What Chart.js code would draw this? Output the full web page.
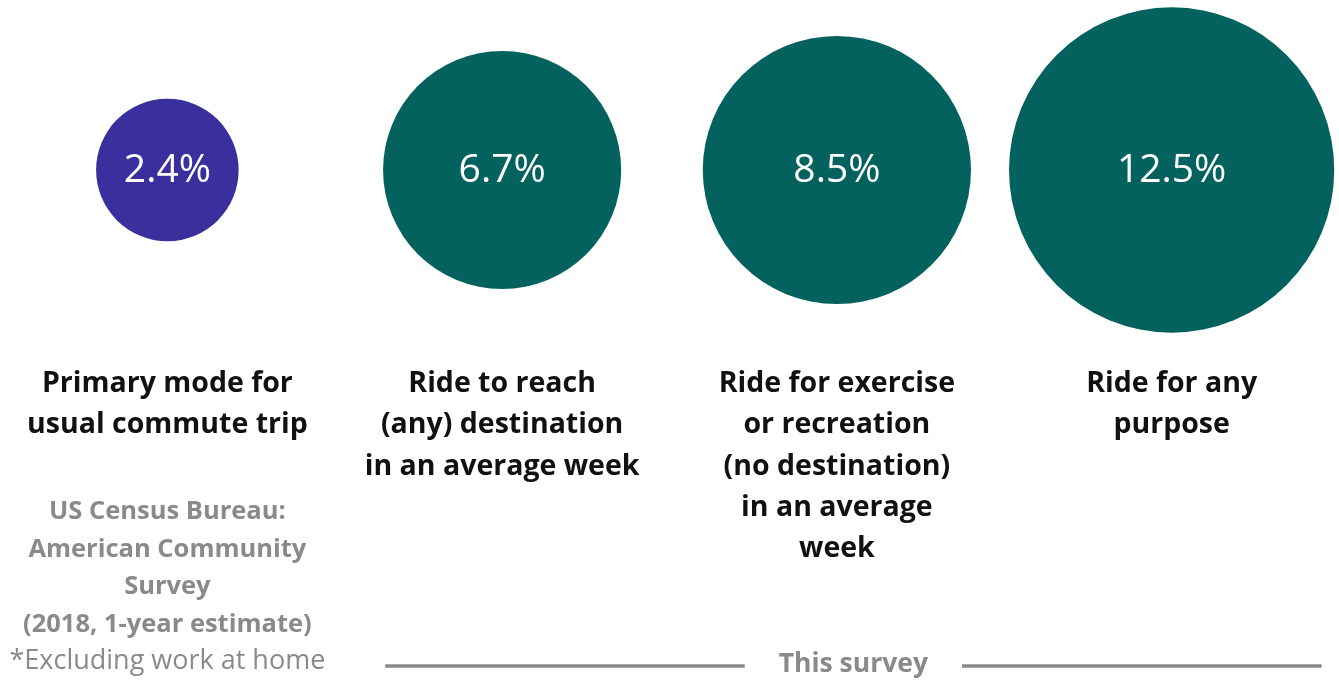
<!DOCTYPE html>
<html>
<head>
<meta charset="utf-8">
<script src="https://cdn.jsdelivr.net/npm/chart.js@4/dist/chart.umd.min.js"></script>
<style>
    html, body { margin: 0; padding: 0; background: #ffffff; }
    #wrap { width: 1339px; height: 682px; position: relative; }
</style>
</head>
<body>
<div id="wrap"><canvas id="bubbleChart"></canvas></div>
<script>
// categories (one label per bubble, split into lines)
const categories = [
    'Primary mode for usual commute trip',
    'Ride to reach (any) destination in an average week',
    'Ride for exercise or recreation (no destination) in an average week',
    'Ride for any purpose'
];
const categoryLines = [
    ['Primary mode for', 'usual commute trip'],
    ['Ride to reach', '(any) destination', 'in an average week'],
    ['Ride for exercise', 'or recreation', '(no destination)', 'in an average', 'week'],
    ['Ride for any', 'purpose']
];
// share of people riding, percent
const shares = [2.4, 6.7, 8.5, 12.5];
const sourceLines = [
    'US Census Bureau:',
    'American Community',
    'Survey',
    '(2018, 1-year estimate)'
];
const footnote = '*Excluding work at home';
const groupLabel = 'This survey';

const bubbleColors = ['#3a2f9d', '#03625e', '#03625e', '#03625e'];
const FONT = '"Open Sans", Lato, sans-serif';
const SCALE_K = 46; // px radius per sqrt(percent), bubble area ~ value

const labelPlugin = {
    id: 'bubbleLabels',
    afterDatasetsDraw(chart) {
        const ctx = chart.ctx;
        const meta = chart.getDatasetMeta(0);
        const xs = chart.scales.x;
        ctx.save();
        ctx.textAlign = 'center';
        ctx.textBaseline = 'middle';

        // values inside bubbles
        ctx.fillStyle = '#ffffff';
        ctx.font = '400 39px ' + FONT;
        meta.data.forEach((pt, i) => {
            ctx.fillText(shares[i].toFixed(1) + '%', pt.x, pt.y + 1);
        });

        // category labels
        ctx.fillStyle = '#111111';
        ctx.font = '700 28.5px ' + FONT;
        categoryLines.forEach((lines, i) => {
            const cx = xs.getPixelForValue(i);
            lines.forEach((line, j) => {
                ctx.fillText(line, cx, 384 + j * 41.3);
            });
        });

        // source note under the first category
        const x0 = xs.getPixelForValue(0);
        ctx.fillStyle = '#8a8a8a';
        ctx.font = '700 25.5px ' + FONT;
        sourceLines.forEach((line, j) => {
            ctx.fillText(line, x0, 512 + j * 37.5);
        });
        ctx.font = '400 27px ' + FONT;
        ctx.fillText(footnote, x0, 661);

        // bracket for this survey's categories
        const left = xs.getPixelForValue(1) - 117;
        const right = xs.getPixelForValue(3) + 150;
        const mid = (left + right) / 2;
        ctx.font = '700 26.5px ' + FONT;
        const tw = ctx.measureText(groupLabel).width;
        ctx.fillText(groupLabel, mid, 664);
        ctx.strokeStyle = '#8a8a8a';
        ctx.lineWidth = 3.5;
        ctx.beginPath();
        ctx.moveTo(left, 666);
        ctx.lineTo(mid - tw / 2 - 34, 666);
        ctx.moveTo(mid + tw / 2 + 34, 666);
        ctx.lineTo(right, 666);
        ctx.stroke();
        ctx.restore();
    }
};

new Chart(
    document.getElementById('bubbleChart'),
    {
        type: 'bubble',
        data: {
            labels: categories,
            datasets: [{
                label: 'Share riding',
                data: shares.map((v, i) => ({ x: categories[i], y: 0 })),
                backgroundColor: bubbleColors,
                borderWidth: 0,
                radius: (c) => SCALE_K * Math.sqrt(shares[c.dataIndex]),
                clip: false
            }]
        },
        plugins: [labelPlugin],
        options: {
            responsive: true,
            maintainAspectRatio: false,
            animation: false,
            events: [],
            layout: {
                autoPadding: false,
                padding: { left: 0, right: 0, top: 0, bottom: 342 }
            },
            plugins: {
                legend: { display: false },
                tooltip: { enabled: false }
            },
            scales: {
                x: {
                    type: 'category',
                    offset: true,
                    display: false
                },
                y: {
                    min: -1,
                    max: 1,
                    display: false
                }
            }
        }
    }
);
</script>
</body>
</html>
